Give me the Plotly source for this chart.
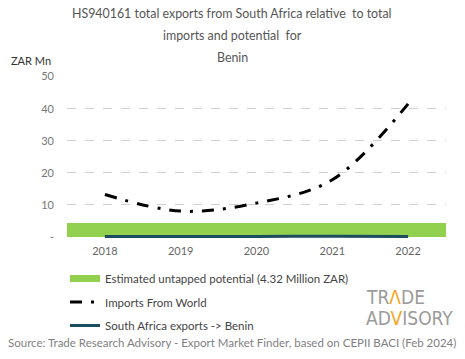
import plotly.graph_objects as go

years = ["2018", "2019", "2020", "2021", "2022"]
potential = [4.32, 4.32, 4.32, 4.32, 4.32]
imports_world = [13.2, 8.0, 10.5, 17.8, 41.5]
sa_exports = [0.05, 0.05, 0.1, 0.15, 0.1]

title_lines = ["HS940161 total exports from South Africa relative  to total",
               "imports and potential  for",
               "Benin"]
y_ticks = [0, 10, 20, 30, 40, 50]
y_ticktext = ["-", "10", "20", "30", "40", "50"]

FONT = "Lato"
LOGO_FONT = "DejaVu Sans Condensed, DejaVu Sans, Roboto"
GREEN = "#92d050"
TEAL = "#1b4d5e"

W, H = 465, 359
L, R, T, B = 67, 19, 76, 121
PW, PH = W - L - R, H - T - B


def px(x):
    return (x - L) / PW


def py(y):
    return (H - B - y) / PH


fig = go.Figure()
fig.add_trace(go.Bar(x=years, y=potential, marker=dict(color=GREEN, line=dict(width=0)),
                     width=1, showlegend=False, hoverinfo="skip"))
fig.add_trace(go.Scatter(x=[None], y=[None], mode="lines",
                         line=dict(color=GREEN, width=7),
                         name="Estimated untapped potential (4.32 Million ZAR)",
                         legendgroup="a"))
fig.add_trace(go.Scatter(x=years, y=imports_world, mode="lines",
                         line=dict(color="black", width=3, dash="12px,9px,3px,9px", shape="spline"),
                         name="Imports From World", legendgroup="b"))
fig.add_trace(go.Scatter(x=years, y=sa_exports, mode="lines",
                         line=dict(color=TEAL, width=3, shape="spline"),
                         name="South Africa exports -> Benin", legendgroup="c"))

annotations = []
for t, yy in zip(title_lines, [13, 35, 58]):
    annotations.append(dict(text=t, x=px(232), y=py(yy), xref="paper", yref="paper",
                            xanchor="center", yanchor="middle", showarrow=False,
                            font=dict(family=FONT, size=12.4, color="#555555")))
annotations.append(dict(text="ZAR Mn", x=px(9), y=py(60), xref="paper", yref="paper",
                        xanchor="left", yanchor="middle", showarrow=False,
                        font=dict(family=FONT, size=11, color="#333333")))
annotations.append(dict(text="Source: Trade Research Advisory - Export Market Finder, based on CEPII BACI (Feb 2024)",
                        x=px(232), y=py(342), xref="paper", yref="paper",
                        xanchor="center", yanchor="middle", showarrow=False,
                        font=dict(family=FONT, size=11.5, color="#7f7f7f")))
annotations.append(dict(text="TR<span style='color:#f5a623'>Λ</span>DE",
                        x=px(364), y=py(297), xref="paper", yref="paper",
                        xanchor="left", yanchor="middle", showarrow=False,
                        font=dict(family=LOGO_FONT, size=19, color="#9a9a9a")))
annotations.append(dict(text="AD<span style='color:#f5a623'>V</span>ISORY",
                        x=px(364), y=py(318), xref="paper", yref="paper",
                        xanchor="left", yanchor="middle", showarrow=False,
                        font=dict(family=LOGO_FONT, size=19, color="#9a9a9a")))

fig.update_layout(
    width=W, height=H,
    margin=dict(l=L, r=R, t=T, b=B, autoexpand=False),
    plot_bgcolor="white", paper_bgcolor="white",
    bargap=0,
    annotations=annotations,
    font=dict(family=FONT),
    legend=dict(x=px(65), y=py(264), xref="paper", yref="paper",
                xanchor="left", yanchor="top", orientation="v",
                tracegroupgap=4.5, font=dict(family=FONT, size=11.5, color="#444444"),
                bgcolor="rgba(0,0,0,0)"),
    xaxis=dict(type="category", range=[-0.5, 4.5], showgrid=False, zeroline=False,
               showline=False, ticks="", ticklabelstandoff=5,
               tickfont=dict(family=FONT, size=11, color="#666666")),
    yaxis=dict(range=[-0.4, 50.2], tickvals=y_ticks, ticktext=y_ticktext,
               showgrid=True, gridcolor="#d0d0d0", griddash="dash", gridwidth=1,
               zeroline=False, showline=False, ticks="", ticklabelstandoff=12,
               tickfont=dict(family=FONT, size=11, color="#777777")),
)

fig.write_html("out.html", config={"displayModeBar": False},
               post_script="document.body.style.margin='0';document.body.style.overflow='hidden';")
